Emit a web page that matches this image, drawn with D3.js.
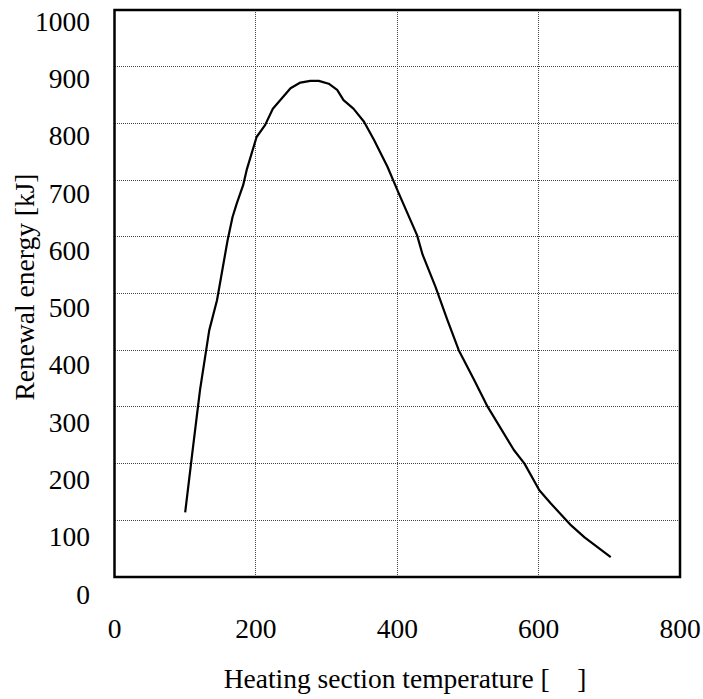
<!DOCTYPE html>
<html>
<head>
<meta charset="utf-8">
<script src="https://cdn.jsdelivr.net/npm/d3@7"></script>
<style>
  body { margin: 0; background: #fff; }
</style>
</head>
<body>
<svg id="chart" width="703" height="699"></svg>
<script>
// curve
var temperature = [100, 110, 121, 134, 145, 160, 167, 173, 182, 187, 201, 213, 224, 249, 263, 277, 289, 303, 315, 324, 338, 353, 367, 386, 402, 428, 436, 454, 471, 487, 509, 528, 565, 580, 601, 617, 646, 665, 702];
var energy = [114, 218, 330, 435, 488, 594, 635, 659, 691, 718, 776, 797, 826, 862, 872, 875, 875, 870, 859, 841, 826, 803, 771, 724, 677, 603, 568, 512, 453, 400, 347, 300, 224, 200, 153, 130, 91, 70, 35];
var xTicks = [0, 200, 400, 600, 800];
var yTicks = [0, 100, 200, 300, 400, 500, 600, 700, 800, 900, 1000];
var xGrid = [200, 400, 600];
var yGrid = [100, 200, 300, 400, 500, 600, 700, 800, 900];

var FONT = '"Liberation Serif", "Times New Roman", Times, serif';

var svg = d3.select('#chart'),
    M = { top: 10, right: 23, bottom: 122, left: 114.5 },
    W = 703, H = 699;

var x = d3.scaleLinear().domain([0, 800]).range([M.left, W - M.right]),
    y = d3.scaleLinear().domain([0, 1000]).range([H - M.bottom, M.top]),
    // the tick labels in the original drift a little from the grid
    yLab = d3.scaleLinear().domain([0, 1000]).range([594, 21]);

var data = temperature.map(function(t, i) { return { t: t, e: energy[i] }; });

// grid
svg.append('g').selectAll('line')
   .data(yGrid).enter().append('line')
   .attr('x1', x(0)).attr('x2', x(800))
   .attr('y1', function(d) { return y(d); })
   .attr('y2', function(d) { return y(d); })
   .attr('stroke', '#444').attr('stroke-width', 1)
   .attr('stroke-dasharray', '1,1')
   .attr('shape-rendering', 'crispEdges');

svg.append('g').selectAll('line')
   .data(xGrid).enter().append('line')
   .attr('y1', y(0)).attr('y2', y(1000))
   .attr('x1', function(d) { return x(d); })
   .attr('x2', function(d) { return x(d); })
   .attr('stroke', '#444').attr('stroke-width', 1)
   .attr('stroke-dasharray', '1,1')
   .attr('shape-rendering', 'crispEdges');

// frame
svg.append('rect')
   .attr('x', x(0)).attr('y', y(1000))
   .attr('width', x(800) - x(0)).attr('height', y(0) - y(1000))
   .attr('fill', 'none').attr('stroke', '#000').attr('stroke-width', 2.5);

// curve
var line = d3.line()
    .x(function(d) { return x(d.t); })
    .y(function(d) { return y(d.e); });

svg.append('path')
   .attr('d', line(data))
   .attr('fill', 'none')
   .attr('stroke', '#000')
   .attr('stroke-width', 2.2)
   .attr('stroke-linejoin', 'round');

// tick labels
svg.append('g').selectAll('text')
   .data(yTicks).enter().append('text')
   .attr('x', 90)
   .attr('y', function(d) { return yLab(d); })
   .attr('dy', '0.35em')
   .attr('text-anchor', 'end')
   .attr('font-family', FONT)
   .attr('font-size', 27.5)
   .text(function(d) { return d; });

svg.append('g').selectAll('text')
   .data(xTicks).enter().append('text')
   .attr('x', function(d) { return x(d); })
   .attr('y', 638)
   .attr('text-anchor', 'middle')
   .attr('font-family', FONT)
   .attr('font-size', 27.5)
   .text(function(d) { return d; });

// axis titles
svg.append('text')
   .attr('x', 405).attr('y', 688)
   .attr('text-anchor', 'middle')
   .attr('font-family', FONT)
   .attr('font-size', 27.5)
   .attr('xml:space', 'preserve')
   .style('white-space', 'pre')
   .text('Heating section temperature [    ]');

svg.append('text')
   .attr('transform', 'translate(34,287) rotate(-90)')
   .attr('text-anchor', 'middle')
   .attr('font-family', FONT)
   .attr('font-size', 27.5)
   .text('Renewal energy [kJ]');
</script>
</body>
</html>
